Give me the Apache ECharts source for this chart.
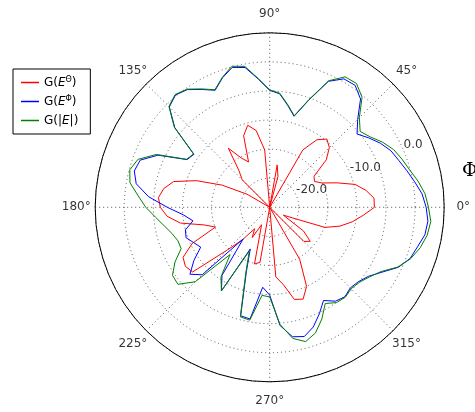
<!DOCTYPE html>
<html>
<head>
<meta charset="utf-8">
<script src="https://cdn.jsdelivr.net/npm/echarts@6/dist/echarts.min.js"></script>
<style>
html,body{margin:0;padding:0;background:#fff;}
#chart{width:475px;height:412px;}
</style>
</head>
<body>
<div id="chart"></div>
<script>
// ---- data (angles in degrees, gains in dB) ----
const ANGLES = [0,5,10,15,20,25,30,35,40,45,50,55,60,65,70,75,80,85,90,95,100,105,110,115,120,125,130,135,140,145,150,155,160,165,170,175,
  180,185,190,195,200,205,210,215,220,225,230,235,240,245,250,255,260,265,270,275,280,285,290,295,300,305,310,315,320,325,330,335,340,345,350,355];

const G_E_THETA = [-7.0,-7.0,-8.2,-9.8,-12.7,-15.1,-16.1,-15.7,-12.3,-10.5,-9.7,-10.8,-13.6,-25,-25,-19.5,-17.6,-25,-25,-15.1,-11.6,-10.4,-11.9,-16.4,-15.2,-12.6,-16.8,-18.3,-25,-25,-20.5,-16.0,-11.6,-7.9,-6.5,-5.8,
  -6.2,-7.3,-9.4,-13.3,-15.1,-10.3,-7.8,-7.3,-7.7,-14.5,-17.7,-20.5,-19.0,-21.7,-21.5,-14.9,-15.4,-25,-25,-13.0,-11.5,-8.6,-8.2,-10.0,-14.7,-25,-25,-16.7,-15.9,-17.9,-22.3,-20.7,-14.9,-12.5,-10.6,-8.9];

const G_E_PHI = [1.9,1.3,0.3,-0.6,-1.4,-2.0,-3.0,-4.2,-5.4,-3.6,-0.7,0.6,0.5,-1.1,-5.4,-8.8,-7.2,-5.4,-4.9,-2.9,-0.6,-0.1,-1.3,-2.8,-1.6,-0.3,0.2,-0.6,-3.7,-9.1,-8.6,-3.8,-1.3,-0.9,-1.7,-4.1,
  -7.4,-10.1,-11.6,-10.0,-9.7,-10.6,-11.3,-9.1,-7.1,-8.6,-17.9,-10.7,-8.4,-17.1,-13.3,-5.7,-5.5,-11.2,-9.9,-4.6,-2.4,-2.0,-3.1,-4.8,-6.5,-5.3,-4.9,-5.4,-5.1,-4.3,-2.7,-0.6,0.7,1.3,2.1,2.3];

const G_E_ABS = [2.3,1.8,0.9,-0.1,-0.8,-1.5,-2.6,-3.9,-4.7,-3.2,-0.3,1.0,0.9,-1.0,-5.3,-8.7,-7.1,-5.3,-4.8,-2.8,-0.4,0.1,-1.2,-2.7,-1.5,-0.2,0.3,-0.5,-3.6,-9.0,-8.5,-3.5,-0.9,-0.1,-0.6,-2.3,
  -3.7,-5.3,-6.6,-7.6,-8.2,-8.2,-6.2,-4.6,-4.4,-6.9,-14.4,-10.4,-8.4,-16.7,-13.0,-5.5,-5.3,-9.8,-9.6,-4.8,-2.1,-1.1,-2.0,-3.8,-5.9,-5.0,-4.8,-5.2,-4.9,-4.1,-2.9,-0.7,0.8,1.8,2.5,2.8];

const SERIES_NAMES = ['G(E^Θ)', 'G(E^Φ)', 'G(|E|)'];
const SERIES_COLORS = ['#ff0000', '#0000ff', '#008000'];
const ANGLE_TICKS = [0,45,90,135,180,225,270,315];
const R_MIN = -25, R_MAX = 5, R_STEP = 5;
const R_LABELS = [-20, -10, 0];
const R_LABEL_ANGLE = 22.5;
const AXIS_TITLE = 'Φ';

// ---- build ----
const CX = 269.7, CY = 207.3, R = 174.5;
function closed(values) {
  const d = ANGLES.map((a, i) => [values[i], a]);
  d.push([values[0], 360]);
  return d;
}
const FONT = 'DejaVu Sans';
const legendRich = {
  'G(E^Θ)': '{n|G(}{i|E}{s|Θ}{n|)}',
  'G(E^Φ)': '{n|G(}{i|E}{s|Φ}{n|)}',
  'G(|E|)': '{n|G(|}{i|E}{n||)}'
};
const dotted = {color: '#555', width: 1, type: [1, 3]};

const chart = echarts.init(document.getElementById('chart'), null, {renderer: 'canvas'});
const lineSeries = [G_E_THETA, G_E_PHI, G_E_ABS].map((vals, k) => ({
  name: SERIES_NAMES[k],
  type: 'line',
  coordinateSystem: 'polar',
  polarIndex: 0,
  data: closed(vals),
  showSymbol: false,
  symbol: 'none',
  smooth: false,
  clip: false,
  color: SERIES_COLORS[k],
  lineStyle: {color: SERIES_COLORS[k], width: 1},
  z: 3 + k
}));

chart.setOption({
  animation: false,
  backgroundColor: '#fff',
  title: {
    text: AXIS_TITLE, left: 457, top: 157,
    textStyle: {fontFamily: 'DejaVu Serif', fontSize: 19, fontWeight: 'normal', color: '#000'}
  },
  legend: {
    data: SERIES_NAMES,
    orient: 'vertical',
    left: 13, top: 69,
    padding: [6, 12, 6, 8],
    itemGap: 4,
    itemWidth: 18, itemHeight: 1.5,
    icon: 'rect',
    borderColor: '#000', borderWidth: 1, borderRadius: 0,
    backgroundColor: '#fff',
    formatter: name => legendRich[name],
    textStyle: {
      fontFamily: FONT, fontSize: 12, color: '#000', lineHeight: 15,
      rich: {
        n: {fontFamily: FONT, fontSize: 12, color: '#000', lineHeight: 15},
        i: {fontFamily: FONT, fontSize: 12, fontStyle: 'italic', color: '#000', lineHeight: 15},
        s: {fontFamily: FONT, fontSize: 8, color: '#000', lineHeight: 15, padding: [0, 0, 6, 0]}
      }
    }
  },
  polar: [
    {center: [CX, CY], radius: R},
    {center: [CX, CY], radius: R + 19}
  ],
  angleAxis: [
    {
      polarIndex: 0, type: 'value', min: 0, max: 360, interval: 45,
      startAngle: 0, clockwise: false,
      axisLine: {show: true, lineStyle: {color: '#000', width: 1}},
      axisTick: {show: false},
      axisLabel: {show: false},
      splitLine: {show: true, lineStyle: dotted}
    },
    {
      polarIndex: 1, type: 'value', min: 0, max: 360,
      startAngle: 0, clockwise: false, show: false
    }
  ],
  radiusAxis: [
    {
      polarIndex: 0, type: 'value', min: R_MIN, max: R_MAX, interval: R_STEP,
      axisLine: {show: false}, axisTick: {show: false}, axisLabel: {show: false},
      splitLine: {show: true, lineStyle: dotted}
    },
    {polarIndex: 1, type: 'value', min: 0, max: 1, show: false}
  ],
  series: lineSeries.concat([
    {
      type: 'scatter', coordinateSystem: 'polar', polarIndex: 1,
      symbolSize: 1, itemStyle: {color: 'rgba(0,0,0,0)'},
      data: ANGLE_TICKS.map(a => [1, a]),
      label: {
        show: true, position: 'inside', color: '#000', fontFamily: FONT, fontSize: 12,
        formatter: p => p.value[1] + '°'
      },
      silent: true, z: 10
    },
    {
      type: 'scatter', coordinateSystem: 'polar', polarIndex: 0,
      symbolSize: 1, itemStyle: {color: 'rgba(0,0,0,0)'},
      data: R_LABELS.map(v => [v, R_LABEL_ANGLE]),
      label: {
        show: true, position: [0, 0], align: 'left', verticalAlign: 'bottom',
        color: '#000', fontFamily: FONT, fontSize: 12,
        formatter: p => p.value[0].toFixed(1)
      },
      silent: true, z: 10
    }
  ])
});
</script>
</body>
</html>
